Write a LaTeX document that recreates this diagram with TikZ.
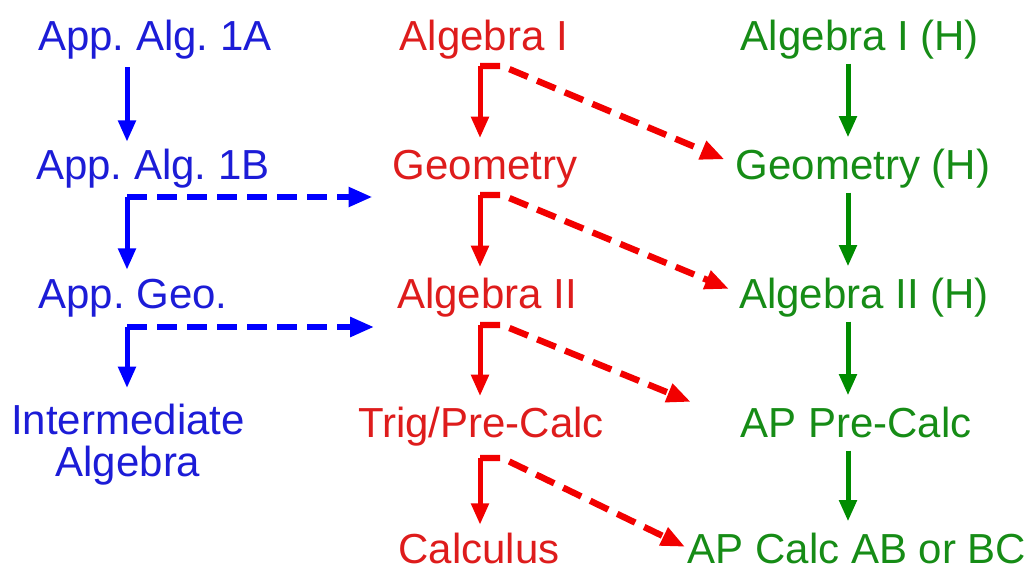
\documentclass[tikz,border=0pt]{standalone}
\usepackage{fontspec}
\setmainfont{Liberation Sans}
\usetikzlibrary{calc}
\usetikzlibrary{arrows.meta}
\frenchspacing

\definecolor{appblue}{RGB}{28,28,215}
\definecolor{regred}{RGB}{222,28,28}
\definecolor{hongreen}{RGB}{22,140,22}

\tikzset{
    course/.style = {anchor = base, inner sep = 0pt, text height = 22.5pt, text depth = 0pt, font = \fontsize{31.5}{31.5}\selectfont},
    down/.style = {line width = 3.75pt, -{Triangle[length = 16pt, width = 12.75pt]}},
    across/.style = {line width = 4.8pt, dash pattern = on 15pt off 7.5pt, -{Triangle[length = 18pt, width = 14pt]}}
}

\begin{document}
\begin{tikzpicture}[x = 0.75pt, y = -0.75pt]
            \useasboundingbox (0, 0) rectangle (1032, 571);

            % applied track
            \node (A1) at (155, 50) [course, text = appblue]{App. Alg. 1A};
            \node (A2) at (153, 179) [course, text = appblue]{App. Alg. 1B};
            \node (A3) at (133, 308) [course, text = appblue]{App. Geo.};
            \node (A4) at (128, 404) [anchor = north, inner sep = 0pt, align = center, text = appblue, font = \fontsize{31.5}{31.5}\selectfont]{Intermediate\\Algebra};

            % regular track
            \node (B1) at (484, 50) [course, text = regred]{Algebra I};
            \node (B2) at (485, 179) [course, text = regred]{Geometry};
            \node (B3) at (487, 308) [course, text = regred]{Algebra II};
            \node (B4) at (481, 437) [course, text = regred]{Trig/Pre-Calc};
            \node (B5) at (479, 563) [course, text = regred]{Calculus};

            % honors track
            \node (C1) at (860, 50) [course, text = hongreen]{Algebra I (H)};
            \node (C2) at (863, 179) [course, text = hongreen]{Geometry (H)};
            \node (C3) at (864, 308) [course, text = hongreen]{Algebra II (H)};
            \node (C4) at (856, 437) [course, text = hongreen]{AP Pre-Calc};
            \node (C5) at (857, 563) [course, text = hongreen]{AP Calc AB or BC};

            \coordinate (a1) at (127, 197);
            \coordinate (a2) at (127, 327);
            \coordinate (b1) at (480, 66);
            \coordinate (b2) at (480, 195);
            \coordinate (b3) at (480, 325);
            \coordinate (b4) at (480, 458);
            \coordinate (c0) at (848, 0);

            \draw[down, blue, shorten < = 12.75pt, shorten > = 5.25pt] (A1.south -| a1) -- (A2.north -| a1);
            \draw[down, blue, shorten > = 6pt] (a1) -- (A3.north -| a1);
            \draw[down, blue, shorten > = 12pt] (a2) -- (A4.north -| a2);
            \draw[across, blue, shorten > = 15pt] (a1) -- (a1 -| B2.west);
            \draw[across, blue, shorten > = 17pt] (a2) -- (a2 -| B3.west);

            \draw[down, red!95!black, shorten > = 8pt] (b1) -- (B2.north -| b1);
            \draw[down, red!95!black, shorten > = 8pt] (b2) -- (B3.north -| b2);
            \draw[down, red!95!black, shorten > = 8pt] (b3) -- (B4.north -| b3);
            \draw[down, red!95!black, shorten > = 6pt] (b4) -- (B5.north -| b4);
            \draw[across, red!95!black, shorten > = 9pt] (b1) -- +(22, 0) -- (C2.west);
            \draw[across, red!95!black, shorten > = 8pt] (b2) -- +(22, 0) -- (C3.west);
            \draw[across, red!95!black, shorten > = 40pt] (b3) -- +(22, 0) -- (C4.west);
            \draw[across, red!95!black, shorten > = 2pt] (b4) -- +(22, 0) -- (C5.west);

            \foreach \i/\j in {1/2, 2/3, 3/4, 4/5}
                \draw[down, green!55!black, shorten < = 10pt, shorten > = 8.5pt] (C\i.south -| c0) -- (C\j.north -| c0);
        \end{tikzpicture}
\end{document}
